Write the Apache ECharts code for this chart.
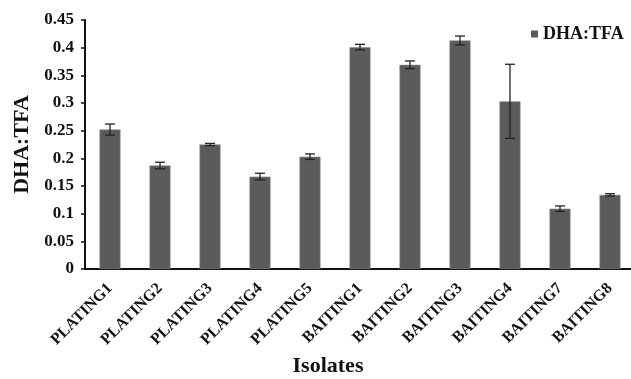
<!DOCTYPE html>
<html><head><meta charset="utf-8">
<script src="https://cdn.jsdelivr.net/npm/echarts@6/dist/echarts.min.js"></script>
<style>html,body{margin:0;padding:0;background:#fff}#c{width:631px;height:379px}</style>
</head><body><div id="c"></div>
<script>
var categories = ['PLATING1','PLATING2','PLATING3','PLATING4','PLATING5','BAITING1','BAITING2','BAITING3','BAITING4','BAITING7','BAITING8'];
var values = [0.252, 0.187, 0.225, 0.167, 0.203, 0.401, 0.369, 0.413, 0.303, 0.109, 0.134];
var errors = [0.010, 0.006, 0.002, 0.006, 0.005, 0.005, 0.007, 0.008, 0.067, 0.005, 0.002];
var yTicks = [0, 0.05, 0.1, 0.15, 0.2, 0.25, 0.3, 0.35, 0.4, 0.45];

var font = 'Liberation Serif';
var chart = echarts.init(document.getElementById('c'), null, {renderer: 'canvas'});
var errData = categories.map(function (c, i) { return [i, values[i] - errors[i], values[i] + errors[i]]; });
chart.setOption({
  animation: false,
  backgroundColor: '#fff',
  grid: {left: 85, top: 20, width: 550, height: 249, containLabel: false, outerBoundsMode: 'none'},
  legend: {
    data: [{name: 'DHA:TFA', icon: 'rect'}], left: 531, top: 25, padding: 0, itemWidth: 7, itemHeight: 7, itemGap: 5,
    itemStyle: {borderWidth: 0, color: '#5b5b5b'},
    textStyle: {fontFamily: font, fontWeight: 'bold', fontSize: 18, color: '#111'}
  },
  xAxis: {
    type: 'category', data: categories,
    name: 'Isolates', nameLocation: 'middle', nameGap: 83,
    nameTextStyle: {fontFamily: font, fontWeight: 'bold', fontSize: 22, color: '#111', padding: [0, 64, 0, 0]},
    axisLine: {lineStyle: {color: '#111', width: 2}},
    axisTick: {show: false},
    axisLabel: {interval: 0, rotate: 45, margin: 17, fontFamily: font, fontWeight: 'bold', fontSize: 16, color: '#111'}
  },
  yAxis: {
    type: 'value', min: yTicks[0], max: yTicks[yTicks.length - 1], interval: 0.05,
    name: 'DHA:TFA', nameLocation: 'middle', nameGap: 50, nameRotate: 90,
    nameTextStyle: {fontFamily: font, fontWeight: 'bold', fontSize: 22, color: '#111'},
    axisLine: {show: true, lineStyle: {color: '#111', width: 2}},
    axisTick: {show: true, length: 4, inside: false, lineStyle: {color: '#111', width: 1.5}},
    splitLine: {show: false},
    axisLabel: {margin: 11, fontFamily: font, fontWeight: 'bold', fontSize: 17, color: '#111',
      formatter: function (v) { return String(parseFloat(v.toFixed(2))); }}
  },
  series: [
    {
      name: 'DHA:TFA', type: 'bar', data: values, barWidth: 21,
      itemStyle: {color: '#5b5b5b', borderColor: '#8a8a8a', borderWidth: 0.6}
    },
    {
      type: 'custom', data: errData, z: 5,
      renderItem: function (params, api) {
        var x = api.value(0);
        var lo = api.coord([x, api.value(1)]);
        var hi = api.coord([x, api.value(2)]);
        var hw = 5;
        var st = {stroke: '#222', lineWidth: 1.3};
        return {type: 'group', children: [
          {type: 'line', shape: {x1: hi[0], y1: hi[1], x2: lo[0], y2: lo[1]}, style: st},
          {type: 'line', shape: {x1: hi[0] - hw, y1: hi[1], x2: hi[0] + hw, y2: hi[1]}, style: st},
          {type: 'line', shape: {x1: lo[0] - hw, y1: lo[1], x2: lo[0] + hw, y2: lo[1]}, style: st}
        ]};
      }
    }
  ]
});
</script></body></html>
